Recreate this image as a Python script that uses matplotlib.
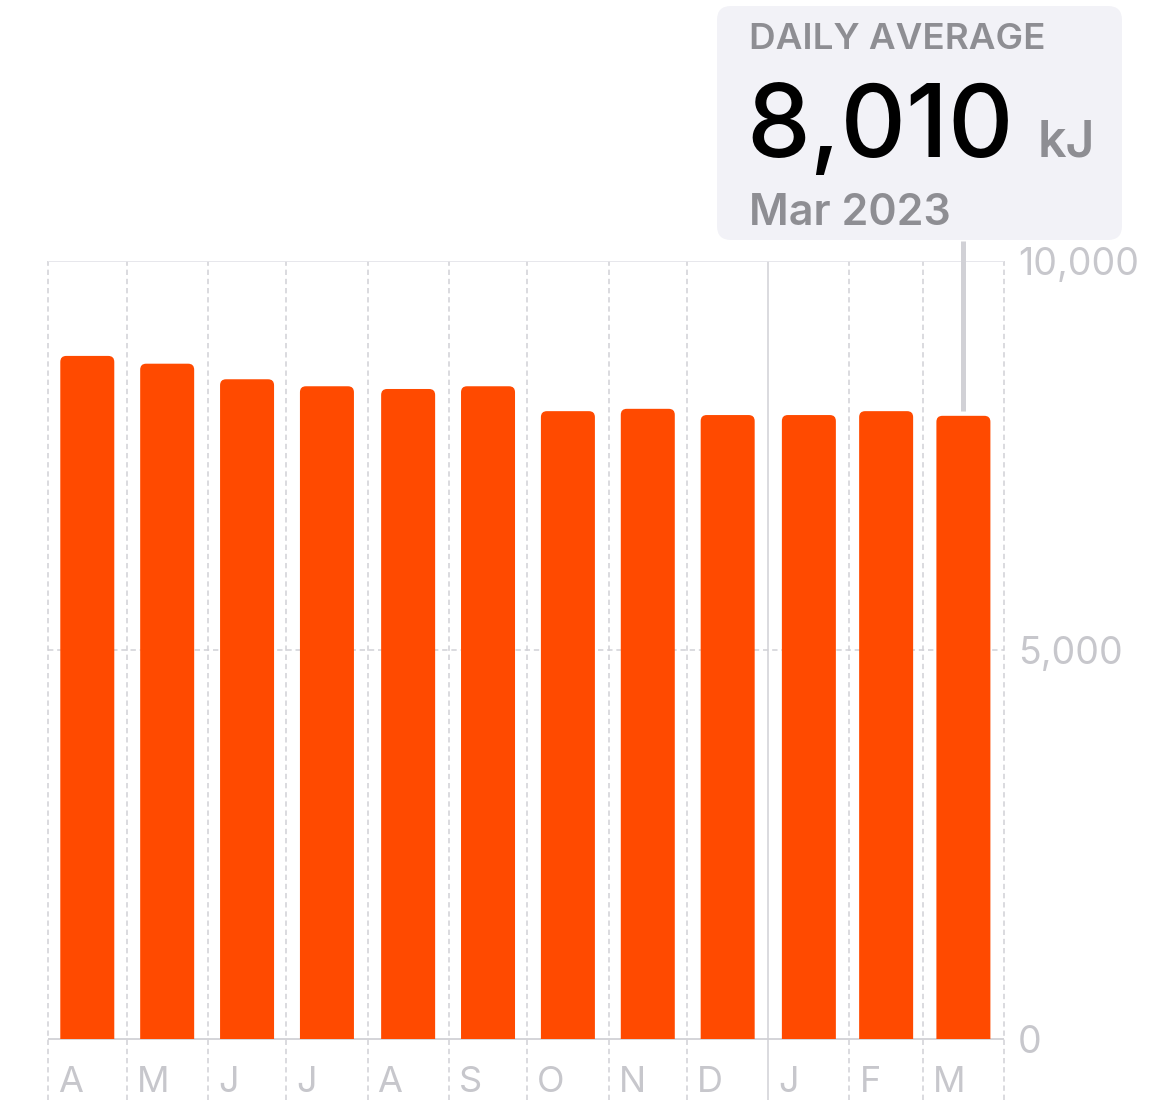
import pandas as pd
import matplotlib.pyplot as plt
from matplotlib.patches import FancyBboxPatch
from matplotlib.transforms import ScaledTranslation

# monthly daily-average active energy, Apr 2022 - Mar 2023
month_labels = ['A', 'M', 'J', 'J', 'A', 'S', 'O', 'N', 'D', 'J', 'F', 'M']
month_starts = pd.date_range('2022-04-01', '2023-03-01', freq='MS')
daily_avg_kj = [8780, 8680, 8480, 8390, 8355, 8390, 8070, 8100, 8020, 8020, 8070, 8010]
y_ticks = [0, 5000, 10000]
y_tick_labels = ['0', '5,000', '10,000']
callout_title = 'DAILY AVERAGE'
callout_value = '8,010'
callout_unit = 'kJ'
callout_period = 'Mar 2023'

plt.rcParams['font.family'] = ['Inter', 'DejaVu Sans']

BAR_COLOR = '#FF4A00'
GRID_COLOR = '#d1d1d6'
LABEL_COLOR = '#c7c7cc'
BOX_TEXT = '#8e8e93'

start = month_starts[0]
end = pd.Timestamp('2023-04-01')
edges = [(d - start).days for d in month_starts] + [(end - start).days]
centers = [(a + b) / 2 for a, b in zip(edges[:-1], edges[1:])]

W, H = 1170, 1120
fig = plt.figure(figsize=(W / 100, H / 100), dpi=100)
ax = fig.add_axes([48 / W, 81 / H, 956 / W, 778 / H])
ax.set_xlim(edges[0], edges[-1])
ax.set_ylim(0, 10000)
ax.axis('off')

days_per_px = (edges[-1] - edges[0]) / 956
kj_per_px = 10000 / 778
px = lambda x, y: ScaledTranslation(x / 100, y / 100, fig.dpi_scale_trans)

# vertical month gridlines (solid at the year boundary)
for i, e in enumerate(edges):
    ls = '-' if i == 9 else (0, (3.5, 2.5))
    ax.vlines(e, -61 * kj_per_px, 10000, colors=GRID_COLOR, lw=1.1,
              linestyles=ls, clip_on=False, zorder=1)

# horizontal lines
ax.hlines(10000, edges[0], edges[-1], colors='#e5e5ea', lw=1.3, zorder=1)
ax.hlines(5000, edges[0], edges[-1], colors=GRID_COLOR, lw=1.1,
          linestyles=(0, (3.5, 2.5)), zorder=1)
ax.hlines(0, edges[0], edges[-1], colors=GRID_COLOR, lw=1.3, zorder=1, clip_on=False)

# bars with rounded tops (bottom rounding falls below 0 and is clipped)
bar_w = 54 * days_per_px
r_x = 6 * days_per_px
r_y = 6 * kj_per_px
for c, v in zip(centers, daily_avg_kj):
    ax.add_patch(FancyBboxPatch((c - bar_w / 2, -3 * r_y), bar_w, v + 3 * r_y,
                                boxstyle=f'round,pad=0,rounding_size={r_x}',
                                mutation_aspect=r_y / r_x,
                                fc=BAR_COLOR, ec='none', zorder=2))

# y labels on the right
for t, lab in zip(y_ticks, y_tick_labels):
    ax.text(1.0, t, lab, transform=ax.get_yaxis_transform() + px(14, -14),
            ha='left', va='baseline', fontsize=27, color=LABEL_COLOR)

# month labels
for e, lab in zip(edges[:-1], month_labels):
    ax.text(e, 0, lab, transform=ax.transData + px(10, -53),
            ha='left', va='baseline', fontsize=26, color=LABEL_COLOR)

# callout box
box = FancyBboxPatch((717 / 100, (H - 240) / 100), 405 / 100, 234 / 100,
                     boxstyle='round,pad=0,rounding_size=0.14',
                     transform=fig.dpi_scale_trans, fc='#f2f2f7', ec='none', zorder=0)
fig.patches.append(box)
fig.text(749 / W, (H - 49) / H, callout_title, fontsize=26.5, fontweight='semibold',
         color=BOX_TEXT, va='baseline')
fig.text(746 / W, (H - 157) / H, callout_value, fontsize=73, fontweight='medium',
         color='black', va='baseline')
fig.text(1038 / W, (H - 157) / H, callout_unit, fontsize=36, fontweight='semibold',
         color=BOX_TEXT, va='baseline')
fig.text(749 / W, (H - 225) / H, callout_period, fontsize=31, fontweight='semibold',
         color=BOX_TEXT, va='baseline')

# connector line from box to the selected bar
ax.plot([centers[-1], centers[-1]],
        [daily_avg_kj[-1] + 5 * kj_per_px, 10000 + 20 * kj_per_px],
        color=GRID_COLOR, lw=3.6, solid_capstyle='butt', clip_on=False, zorder=3)

fig.savefig('out.png', dpi=100)
